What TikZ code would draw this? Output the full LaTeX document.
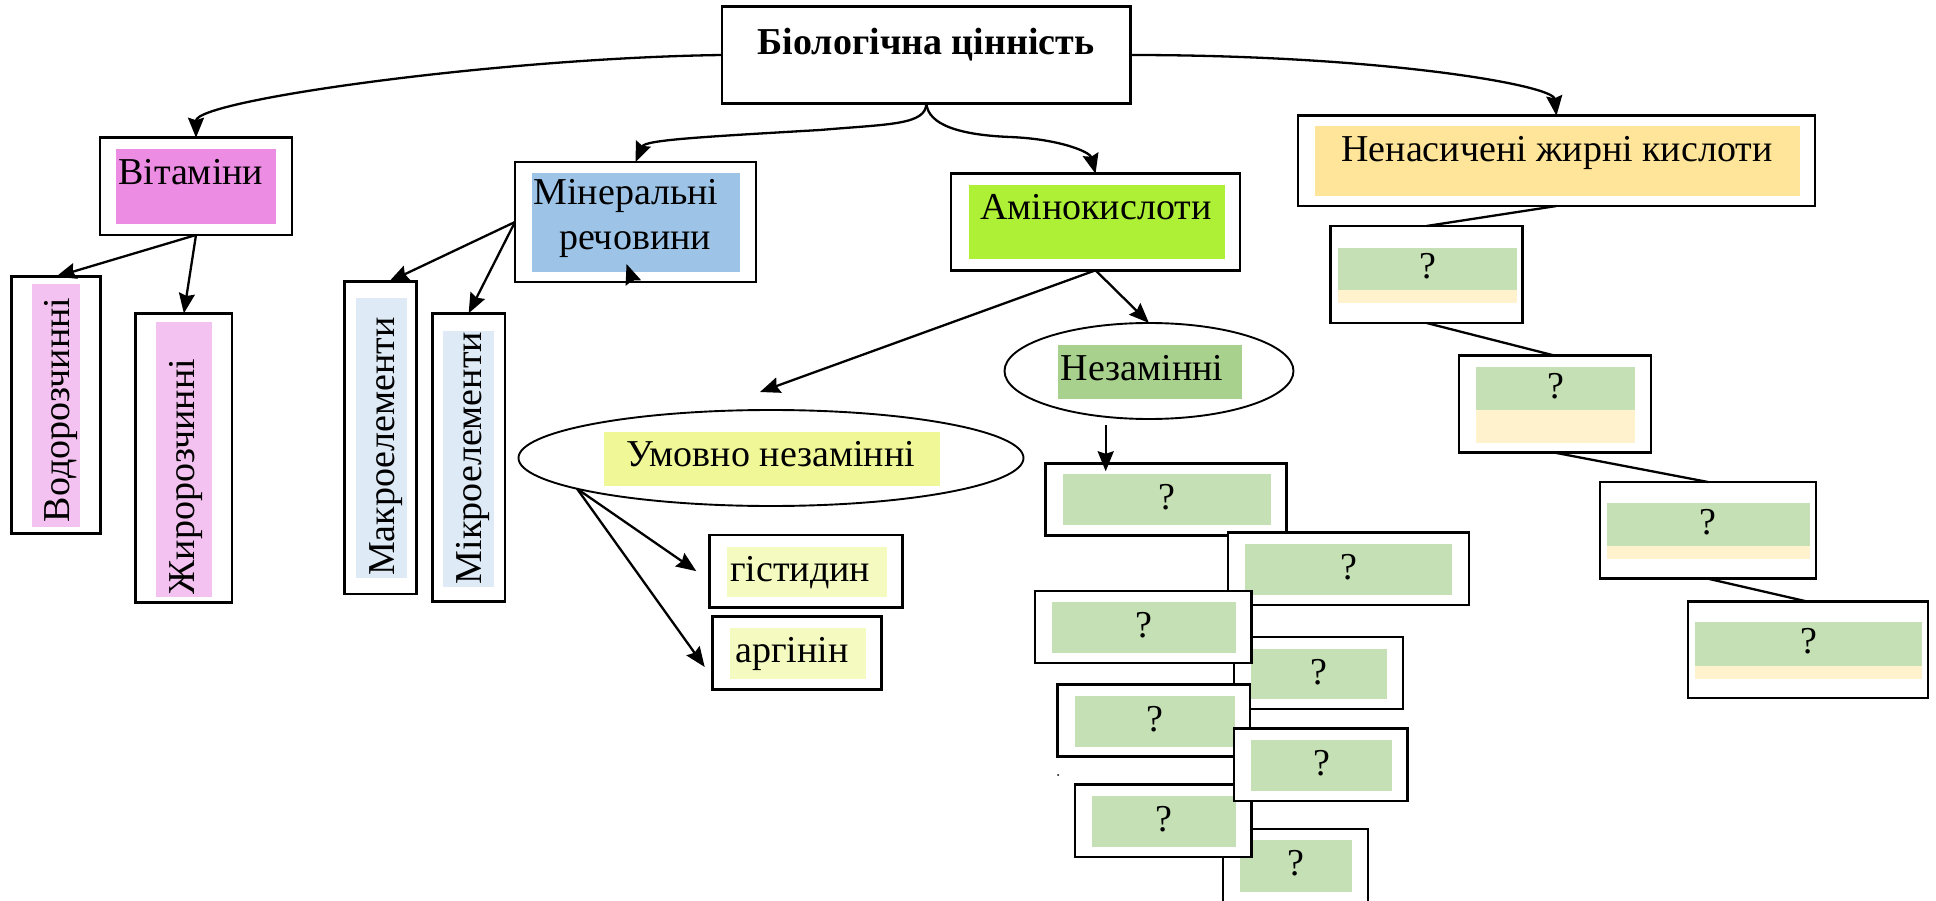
\documentclass[tikz,border=0pt]{standalone}
\usepackage{fontspec}
\setmainfont{Liberation Serif}
\usetikzlibrary{arrows.meta,shapes.geometric,fit}

\definecolor{vitpink}{HTML}{EC8CE2}
\definecolor{softpink}{HTML}{F4C2F0}
\definecolor{minblue}{HTML}{9DC3E6}
\definecolor{softblue}{HTML}{DEEAF6}
\definecolor{aminogreen}{HTML}{AEF036}
\definecolor{fatorange}{HTML}{FFE599}
\definecolor{essgreen}{HTML}{A9D18E}
\definecolor{condyellow}{HTML}{F0F797}
\definecolor{paleyellow}{HTML}{F5FAC0}
\definecolor{qgreen}{HTML}{C5E0B4}
\definecolor{qband}{HTML}{FFF2CC}

% framed box spanning two corner points
\newcommand\boxnode[3]{%
  \path #2 coordinate (#1-a) #3 coordinate (#1-b);
  \node[frame, fit=(#1-a)(#1-b)] (#1) {};}
% framed box with a green panel and a question mark
\newcommand\qbox[5]{%
  \boxnode{#1}{#2}{#3}
  \fill[qgreen] #4 rectangle #5;
  \path #4 -- #5 node[qmark, pos=.5] (#1-t) {?};}

\begin{document}
\begin{tikzpicture}[x=1pt,y=-1pt,
  frame/.style={draw, line width=2.5pt, fill=white, inner sep=0pt, outer sep=0pt},
  oval/.style={draw, ellipse, line width=1.9pt, fill=white, inner sep=0pt, outer sep=0pt},
  arr/.style={line width=2.3pt, -{Stealth[length=20pt,width=16pt,inset=2.5pt]}},
  link/.style={line width=2.3pt},
  lbl/.style={font=\fontsize{38}{45}\selectfont, inner sep=0pt, anchor=base},
  qmark/.style={font=\fontsize{38}{45}\selectfont, inner sep=0pt, anchor=base, yshift=-10pt},
]
\useasboundingbox (0,0) rectangle (1936,901);

% root
\boxnode{title}{(722,6.7)}{(1130.7,103.3)}
\node[lbl] (title-t) at (926,55) {\bfseries Біологічна цінність};

% vitamins
\boxnode{vit}{(100,137.7)}{(292,235)}
\fill[vitpink] (116,149) rectangle (276,223.7);
\node[lbl] (vit-t) at (190.7,185) {Вітаміни};

\boxnode{vodo}{(11.7,276.7)}{(100.4,533.3)}
\fill[softpink] (32,284) rectangle (79.7,526.7);
\node[lbl, rotate=90] (vodo-t) at (69,410) {Водорозчинні};

\boxnode{zhyro}{(135.7,313.3)}{(232,602.7)}
\fill[softpink] (156,322) rectangle (212,596.7);
\node[lbl, rotate=90] (zhyro-t) at (194,476.7) {Жиророзчинні};

% minerals
\boxnode{min}{(515,162)}{(756,282)}
\fill[minblue] (532,173) rectangle (740,272);
\node[lbl] (min-t) at (635,205) {\begin{tabular}[t]{@{}c@{}}Мінеральні\hspace*{18pt}\\речовини\end{tabular}};

\boxnode{makro}{(344.3,281.7)}{(416.7,594)}
\fill[softblue] (356,298) rectangle (406.5,577.7);
\node[lbl, rotate=90] (makro-t) at (394,446.7) {Макроелементи};

\boxnode{mikro}{(432.3,313.3)}{(505,601.7)}
\fill[softblue] (443,331) rectangle (494,586.7);
\node[lbl, rotate=90] (mikro-t) at (481,458) {Мікроелементи};

% amino acids
\boxnode{amino}{(951,173.7)}{(1240,270.3)}
\fill[aminogreen] (969,185) rectangle (1225,259.3);
\node[lbl] (amino-t) at (1095.8,220) {Амінокислоти};

\node[oval, minimum width=505pt, minimum height=96pt] (um) at (771,458) {};
\fill[condyellow] (604,432) rectangle (939.6,485.7);
\node[lbl] (um-t) at (770.7,466) {Умовно незамінні};

\node[oval, minimum width=289pt, minimum height=96pt] (nez) at (1149,371) {};
\fill[essgreen] (1058,345) rectangle (1241.8,399);
\node[lbl] (nez-t) at (1142,380) {Незамінні};

\boxnode{gist}{(709.3,535)}{(902.7,607.3)}
\fill[paleyellow] (727.3,547.3) rectangle (886.7,597.3);
\node[lbl, anchor=base west] (gist-t) at (730,581.7) {гістидин};

\boxnode{arg}{(712.7,616.7)}{(881.7,689.3)}
\fill[paleyellow] (730,628.3) rectangle (865.7,679.3);
\node[lbl, anchor=base west] (arg-t) at (735,662.7) {аргінін};

% essential amino acid slots
\qbox{q1}{(1045.7,463.3)}{(1286.7,535.7)}{(1063,474)}{(1271,525)}
\qbox{q2}{(1228,532.7)}{(1469,605)}{(1245,544)}{(1452,595)}
\qbox{q4}{(1234,637)}{(1403,709)}{(1251,649)}{(1387,699)}
\qbox{q3}{(1035,591)}{(1251.7,663)}{(1052,602)}{(1236,652.7)}
\qbox{q5}{(1057.7,684.7)}{(1250,756.7)}{(1075,696)}{(1235,746.7)}
\qbox{q8}{(1223,829)}{(1368,906)}{(1240,840)}{(1352,891.7)}
\qbox{q7}{(1075,784.7)}{(1251.7,857)}{(1092,796)}{(1236,846.7)}
\qbox{q6}{(1234,728.7)}{(1407.7,801)}{(1251,740)}{(1392,790.7)}
\fill (1058,775) circle (1pt);

% unsaturated fatty acids
\boxnode{nenas}{(1298,115.7)}{(1815,206)}
\fill[fatorange] (1315,126) rectangle (1800,196);
\node[lbl] (nenas-t) at (1557,162) {Ненасичені жирні кислоти};

\qbox{r1}{(1330.6,226)}{(1522.6,323)}{(1338,247.7)}{(1517,290)}
\fill[qband] (1338,290) rectangle (1517,302.7);
\qbox{r2}{(1459,355.7)}{(1651,452.7)}{(1476,367)}{(1635,410)}
\fill[qband] (1476,410) rectangle (1635,442.7);
\qbox{r3}{(1600,482)}{(1816,578.7)}{(1607,503)}{(1809.6,545.7)}
\fill[qband] (1607,545.7) rectangle (1809.6,558.7);
\qbox{r4}{(1687.8,601.7)}{(1928,698)}{(1695,622)}{(1922,665.7)}
\fill[qband] (1695,665.7) rectangle (1922,678.7);

% connectors
\coordinate (umfree) at (760,392);
\coordinate (nezout) at (1105.7,425);

\draw[arr] (title.west) .. controls (500,58) and (196,100) .. (vit.north);
\draw[arr] (title.south) .. controls (926,125) and (890,124) .. (820,130)
  .. controls (700,137) and (645,140) .. (min.north);
\draw[arr] (title.south) .. controls (928,125) and (960,135) .. (1010,137)
  .. controls (1060,139) and (1090,152) .. (amino.north);
\draw[arr] (title.east) .. controls (1380,55) and (1553,85) .. (nenas.north);

\draw[arr] (vit.south) -- (vodo.north);
\draw[arr] (vit.south) -- (zhyro.north);
\draw[arr] (min.west) -- ([xshift=8.5pt]makro.north);
\draw[arr] (min.west) -- (mikro.north);
\draw[arr] ([xshift=-2.5pt]min.south) -- ([xshift=-9pt,yshift=18pt]min.south);

\draw[arr] (amino.south) -- (umfree);
\draw[arr] (amino.south) -- (nez.north);
\draw[arr] (nezout) -- ([yshift=-8pt]nezout |- q1.north);
\draw[arr] (um.189) -- ([xshift=-13pt]gist.west);
\draw[arr] (um.189) -- ([xshift=-8pt,yshift=-14pt]arg.west);

\draw[link] (nenas.south) -- (r1.north);
\draw[link] (r1.south) -- (r2.north);
\draw[link] (r2.south) -- (r3.north);
\draw[link] (r3.south) -- (r4.north);
\end{tikzpicture}
\end{document}
